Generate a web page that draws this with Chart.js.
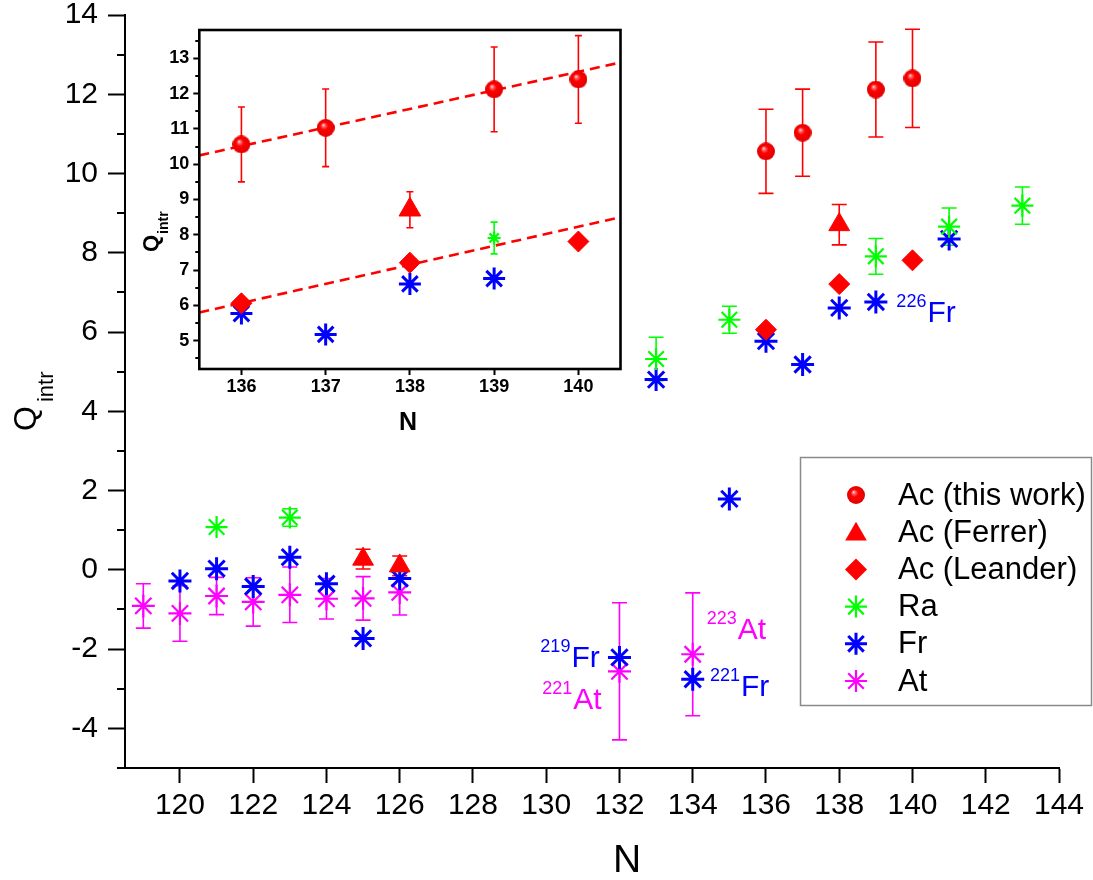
<!DOCTYPE html>
<html lang="en">
<head>
<meta charset="UTF-8">
<title>Q_intr vs N</title>
<style>
  * { margin: 0; padding: 0; box-sizing: border-box; }
  body { background: #fff; width: 1093px; height: 880px; overflow: hidden; }
  .wrap { position: relative; width: 1093px; height: 880px; }
  #mainChart { position: absolute; left: 0; top: 0; }
  #insetChart { position: absolute; left: 140px; top: 0; }
</style>
<script src="https://cdn.jsdelivr.net/npm/chart.js@4.4.0/dist/chart.umd.min.js"></script>
</head>
<body>
<div class="wrap">
  <canvas id="mainChart" width="1093" height="880"></canvas>
  <canvas id="insetChart" width="500" height="440"></canvas>
</div>
<script>
// ---- values ----
const acThisN = [136, 137, 139, 140];
const acThisQ = [10.56, 11.03, 12.12, 12.40];
const acThisErr = [1.06, 1.10, 1.20, 1.24];

const ferrerN = [125, 126, 138];
const ferrerQ = [0.27, 0.10, 8.71];
const ferrerErr = [0.25, 0.25, 0.51];

const leanderN = [136, 138, 140];
const leanderQ = [6.06, 7.21, 7.81];

const raN = [121, 123, 133, 135, 139, 141, 143];
const raQ = [1.08, 1.32, 5.32, 6.31, 7.91, 8.66, 9.19];
const raErr = [0, 0.22, 0.55, 0.34, 0.45, 0.47, 0.47];

const frN = [120, 121, 122, 123, 124, 125, 126, 132, 133, 134, 135, 136, 137, 138, 139, 141];
const frQ = [-0.28, 0.03, -0.42, 0.32, -0.35, -1.73, -0.22, -2.21, 4.80, -2.76, 1.79, 5.77, 5.18, 6.61, 6.76, 8.35];

const atN = [119, 120, 121, 122, 123, 124, 125, 126, 132, 134];
const atQ = [-0.91, -1.10, -0.66, -0.81, -0.63, -0.73, -0.72, -0.57, -2.56, -2.13];
const atErr = [0.56, 0.70, 0.47, 0.61, 0.70, 0.51, 0.55, 0.57, 1.73, 1.55];

// linear fits in the inset (ends at the inset frame)
const fitN = [135.5, 140.5];
const fitUpperQ = [10.25, 12.88];
const fitLowerQ = [5.80, 8.50];

// ticks
const mainXTicks = [120, 122, 124, 126, 128, 130, 132, 134, 136, 138, 140, 142, 144];
const mainYTicks = [-4, -2, 0, 2, 4, 6, 8, 10, 12, 14];
const mainYMinor = [-5, -3, -1, 1, 3, 5, 7, 9, 11, 13];
const insetXTicks = [136, 137, 138, 139, 140];
const insetYTicks = [5, 6, 7, 8, 9, 10, 11, 12, 13];
const insetYMinor = [4.5, 5.5, 6.5, 7.5, 8.5, 9.5, 10.5, 11.5, 12.5, 13.5];

// isotope annotations (anchored in data coordinates)
const isoLabels = [
  { mass: '226', el: 'Fr', n: 139.56, q: 6.26, color: '#0000ff' },
  { mass: '219', el: 'Fr', n: 129.84, q: -2.46, color: '#0000ff' },
  { mass: '221', el: 'At', n: 129.89, q: -3.52, color: '#ff00ff' },
  { mass: '223', el: 'At', n: 134.38, q: -1.75, color: '#ff00ff' },
  { mass: '221', el: 'Fr', n: 134.47, q: -3.19, color: '#0000ff' }
];

const FONT = 'Liberation Sans, Arial, sans-serif';
const RED = '#ff0000', GREEN = '#00ff00', BLUE = '#0000ff', MAGENTA = '#ff00ff';

const pts = (xs, ys) => xs.map((x, i) => ({ x: x, y: ys[i] }));

// red shaded ball used for "Ac (this work)"
function makeSphere(d) {
    const c = document.createElement('canvas');
    c.width = c.height = d;
    const g = c.getContext('2d');
    const gr = g.createRadialGradient(d * 0.36, d * 0.33, 0, d * 0.5, d * 0.5, d / 2);
    gr.addColorStop(0, '#ffffff');
    gr.addColorStop(0.16, '#ff7070');
    gr.addColorStop(0.42, '#ff0000');
    gr.addColorStop(1, '#e00000');
    g.fillStyle = gr;
    g.beginPath();
    g.arc(d / 2, d / 2, d / 2, 0, Math.PI * 2);
    g.fill();
    return c;
}
const sphere = makeSphere(18);

function buildDatasets(s) {
    return [
        { label: 'Ac (this work)', data: pts(acThisN, acThisQ), pointStyle: sphere, pointRadius: 9,
          errors: acThisErr, errorColor: RED, capHalf: s.cap },
        { label: 'Ac (Ferrer)', data: pts(ferrerN, ferrerQ), pointStyle: 'triangle', pointRadius: s.tri,
          pointBackgroundColor: RED, pointBorderColor: RED, pointBorderWidth: 1,
          errors: ferrerErr, errorColor: RED, capHalf: s.cap },
        { label: 'Ac (Leander)', data: pts(leanderN, leanderQ), pointStyle: 'rectRot', pointRadius: s.dia,
          pointBackgroundColor: RED, pointBorderColor: RED, pointBorderWidth: 1 },
        { label: 'Ra', data: pts(raN, raQ), pointStyle: 'star', pointRadius: s.ra,
          pointBorderColor: GREEN, pointBorderWidth: 2.2,
          errors: raErr, errorColor: GREEN, capHalf: s.cap },
        { label: 'Fr', data: pts(frN, frQ), pointStyle: 'star', pointRadius: s.star,
          pointBorderColor: BLUE, pointBorderWidth: 3 },
        { label: 'At', data: pts(atN, atQ), pointStyle: 'star', pointRadius: s.star,
          pointBorderColor: MAGENTA, pointBorderWidth: 2.2,
          errors: atErr, errorColor: MAGENTA, capHalf: s.cap }
    ];
}

// vertical error bars with caps, drawn through the y scale
const errorBars = {
    id: 'errorBars',
    beforeDatasetsDraw(chart) {
        const ctx = chart.ctx, ys = chart.scales.y, a = chart.chartArea;
        ctx.save();
        ctx.beginPath();
        ctx.rect(a.left, a.top, a.right - a.left, a.bottom - a.top);
        ctx.clip();
        chart.data.datasets.forEach((ds, i) => {
            if (!ds.errors) return;
            const meta = chart.getDatasetMeta(i);
            ctx.strokeStyle = ds.errorColor;
            ctx.lineWidth = 1.6;
            meta.data.forEach((p, j) => {
                const e = ds.errors[j];
                if (!e) return;
                const v = ds.data[j].y;
                const y1 = ys.getPixelForValue(v + e), y2 = ys.getPixelForValue(v - e);
                const c = ds.capHalf;
                ctx.beginPath();
                ctx.moveTo(p.x, y1); ctx.lineTo(p.x, y2);
                ctx.moveTo(p.x - c, y1); ctx.lineTo(p.x + c, y1);
                ctx.moveTo(p.x - c, y2); ctx.lineTo(p.x + c, y2);
                ctx.stroke();
            });
        });
        ctx.restore();
    }
};

function minorTicks(chart, values, len, width) {
    const ctx = chart.ctx, ys = chart.scales.y, left = chart.chartArea.left;
    ctx.save();
    ctx.strokeStyle = '#000';
    ctx.lineWidth = width;
    values.forEach(v => {
        const y = Math.round(ys.getPixelForValue(v));
        ctx.beginPath();
        ctx.moveTo(left - len, y);
        ctx.lineTo(left, y);
        ctx.stroke();
    });
    ctx.restore();
}

// rotated title with subscript
function rotatedTitle(ctx, x, y, main, sub, mainFont, subFont, drop, gap) {
    ctx.save();
    ctx.translate(x, y);
    ctx.rotate(-Math.PI / 2);
    ctx.fillStyle = '#000';
    ctx.textAlign = 'left';
    ctx.textBaseline = 'alphabetic';
    ctx.font = mainFont;
    ctx.fillText(main, 0, 0);
    const w = ctx.measureText(main).width;
    ctx.font = subFont;
    ctx.fillText(sub, w + gap, drop);
    ctx.restore();
}

function drawMarker(ctx, kind, color, x, y, r, lw) {
    ctx.save();
    ctx.fillStyle = color;
    ctx.strokeStyle = color;
    ctx.lineWidth = lw || 2;
    ctx.beginPath();
    if (kind === 'sphere') {
        ctx.drawImage(sphere, x - sphere.width / 2, y - sphere.height / 2);
    } else if (kind === 'triangle') {
        ctx.moveTo(x, y - r);
        ctx.lineTo(x + r * 0.866, y + r * 0.5);
        ctx.lineTo(x - r * 0.866, y + r * 0.5);
        ctx.closePath();
        ctx.fill();
    } else if (kind === 'diamond') {
        ctx.moveTo(x - r, y); ctx.lineTo(x, y - r); ctx.lineTo(x + r, y); ctx.lineTo(x, y + r);
        ctx.closePath();
        ctx.fill();
    } else {
        const d = r * Math.SQRT1_2;
        ctx.moveTo(x - r, y); ctx.lineTo(x + r, y);
        ctx.moveTo(x, y - r); ctx.lineTo(x, y + r);
        ctx.moveTo(x - d, y - d); ctx.lineTo(x + d, y + d);
        ctx.moveTo(x - d, y + d); ctx.lineTo(x + d, y - d);
        ctx.stroke();
    }
    ctx.restore();
}

const mainDecor = {
    id: 'mainDecor',
    afterDatasetsDraw(chart) {
        const ctx = chart.ctx, xs = chart.scales.x, ys = chart.scales.y;
        // isotope labels
        isoLabels.forEach(l => {
            const x = xs.getPixelForValue(l.n), y = ys.getPixelForValue(l.q);
            ctx.save();
            ctx.fillStyle = l.color;
            ctx.textBaseline = 'alphabetic';
            ctx.font = '18px ' + FONT;
            ctx.fillText(l.mass, x, y - 15);
            const w = ctx.measureText(l.mass).width;
            ctx.font = '30px ' + FONT;
            ctx.fillText(l.el, x + w + 1, y);
            ctx.restore();
        });
    },
    afterDraw(chart) {
        const ctx = chart.ctx;
        minorTicks(chart, mainYMinor, 8, 2);
        rotatedTitle(ctx, 36, 431, 'Q', 'intr', '32px ' + FONT, '22px ' + FONT, 17, 4);
        // x title
        ctx.save();
        ctx.fillStyle = '#000';
        ctx.font = '39px ' + FONT;
        ctx.textAlign = 'center';
        ctx.textBaseline = 'alphabetic';
        ctx.fillText('N', 627, 872);
        ctx.restore();
        // legend
        ctx.save();
        ctx.fillStyle = '#fff';
        ctx.fillRect(800, 457, 292, 249);
        ctx.strokeStyle = '#8a8a8a';
        ctx.lineWidth = 1.5;
        ctx.strokeRect(800.5, 457.5, 291, 248);
        const rows = [
            ['sphere', RED, 'Ac (this work)', 0, 0],
            ['triangle', RED, 'Ac (Ferrer)', 12.5, 0],
            ['diamond', RED, 'Ac (Leander)', 11, 0],
            ['star', GREEN, 'Ra', 11, 2.2],
            ['star', BLUE, 'Fr', 11, 3],
            ['star', MAGENTA, 'At', 11, 2.2]
        ];
        ctx.font = '31px ' + FONT;
        ctx.textAlign = 'left';
        ctx.textBaseline = 'middle';
        rows.forEach((r, i) => {
            const y = 495 + i * 37.2;
            drawMarker(ctx, r[0], r[1], 856, y + (r[0] === 'triangle' ? 2 : 0), r[3], r[4]);
            ctx.fillStyle = '#000';
            ctx.fillText(r[2], 898, y + 1);
        });
        ctx.restore();
    }
};

const insetDecor = {
    id: 'insetDecor',
    afterDraw(chart) {
        const ctx = chart.ctx, a = chart.chartArea;
        ctx.save();
        ctx.strokeStyle = '#000';
        ctx.lineWidth = 2.6;
        ctx.strokeRect(a.left, a.top, a.right - a.left, a.bottom - a.top);
        ctx.restore();
        minorTicks(chart, insetYMinor, 4, 2);
        rotatedTitle(ctx, 18, 252, 'Q', 'intr', 'bold 22px ' + FONT, 'bold 14px ' + FONT, 10, 1);
        ctx.save();
        ctx.fillStyle = '#000';
        ctx.font = 'bold 25px ' + FONT;
        ctx.textAlign = 'center';
        ctx.textBaseline = 'alphabetic';
        ctx.fillText('N', 268, 430);
        ctx.restore();
    }
};

function fixedScale(size, isX) {
    return function (scale) {
        if (isX) scale.height = size; else scale.width = size;
        scale.paddingTop = 0; scale.paddingBottom = 0;
        scale.paddingLeft = 0; scale.paddingRight = 0;
    };
}

// main chart
new Chart(document.getElementById('mainChart'), {
    type: 'scatter',
    data: { datasets: buildDatasets({ cap: 7.5, tri: 12, dia: 10.5, ra: 11, star: 11.5 }) },
    options: {
        responsive: false,
        animation: false,
        devicePixelRatio: 1,
        layout: { padding: { left: 0, top: 15, right: 34, bottom: 0 } },
        plugins: { legend: { display: false }, tooltip: { enabled: false } },
        scales: {
            x: {
                type: 'linear', min: 118.5, max: 144,
                afterBuildTicks: s => { s.ticks = mainXTicks.map(v => ({ value: v })); },
                afterFit: fixedScale(112, true),
                border: { color: '#000', width: 2 },
                grid: { drawOnChartArea: false, tickLength: 15, tickColor: '#000', tickWidth: 2 },
                ticks: { color: '#000', padding: 5, maxRotation: 0, autoSkip: false,
                         font: { family: FONT, size: 30 } }
            },
            y: {
                type: 'linear', min: -5, max: 14,
                afterBuildTicks: s => { s.ticks = mainYTicks.map(v => ({ value: v })); },
                afterFit: fixedScale(125, false),
                border: { color: '#000', width: 2 },
                grid: { drawOnChartArea: false, tickLength: 17, tickColor: '#000', tickWidth: 2 },
                ticks: { color: '#000', padding: 10, autoSkip: false,
                         font: { family: FONT, size: 30 } }
            }
        }
    },
    plugins: [errorBars, mainDecor]
});

// inset chart
const insetSets = buildDatasets({ cap: 3.5, tri: 12.5, dia: 10.5, ra: 6.5, star: 11 });
insetSets.push(
    { label: 'fit upper', data: pts(fitN, fitUpperQ), showLine: true, pointRadius: 0,
      borderColor: RED, borderWidth: 2.6, borderDash: [10, 6] },
    { label: 'fit lower', data: pts(fitN, fitLowerQ), showLine: true, pointRadius: 0,
      borderColor: RED, borderWidth: 2.6, borderDash: [10, 6] }
);
new Chart(document.getElementById('insetChart'), {
    type: 'scatter',
    data: { datasets: insetSets },
    options: {
        responsive: false,
        animation: false,
        devicePixelRatio: 1,
        layout: { padding: { left: 0, top: 30, right: 19.5, bottom: 0 } },
        plugins: { legend: { display: false }, tooltip: { enabled: false } },
        scales: {
            x: {
                type: 'linear', min: 135.5, max: 140.5,
                afterBuildTicks: s => { s.ticks = insetXTicks.map(v => ({ value: v })); },
                afterFit: fixedScale(71, true),
                border: { display: false },
                grid: { drawOnChartArea: false, tickLength: 6, tickColor: '#000', tickWidth: 2 },
                ticks: { color: '#000', padding: 1, maxRotation: 0, autoSkip: false,
                         font: { family: FONT, size: 18, weight: 'bold' } }
            },
            y: {
                type: 'linear', min: 4.2, max: 13.8,
                afterBuildTicks: s => { s.ticks = insetYTicks.map(v => ({ value: v })); },
                afterFit: fixedScale(59.3, false),
                border: { display: false },
                grid: { drawOnChartArea: false, tickLength: 6, tickColor: '#000', tickWidth: 2 },
                ticks: { color: '#000', padding: 4, autoSkip: false,
                         font: { family: FONT, size: 18, weight: 'bold' } }
            }
        }
    },
    plugins: [errorBars, insetDecor]
});
</script>
</body>
</html>
